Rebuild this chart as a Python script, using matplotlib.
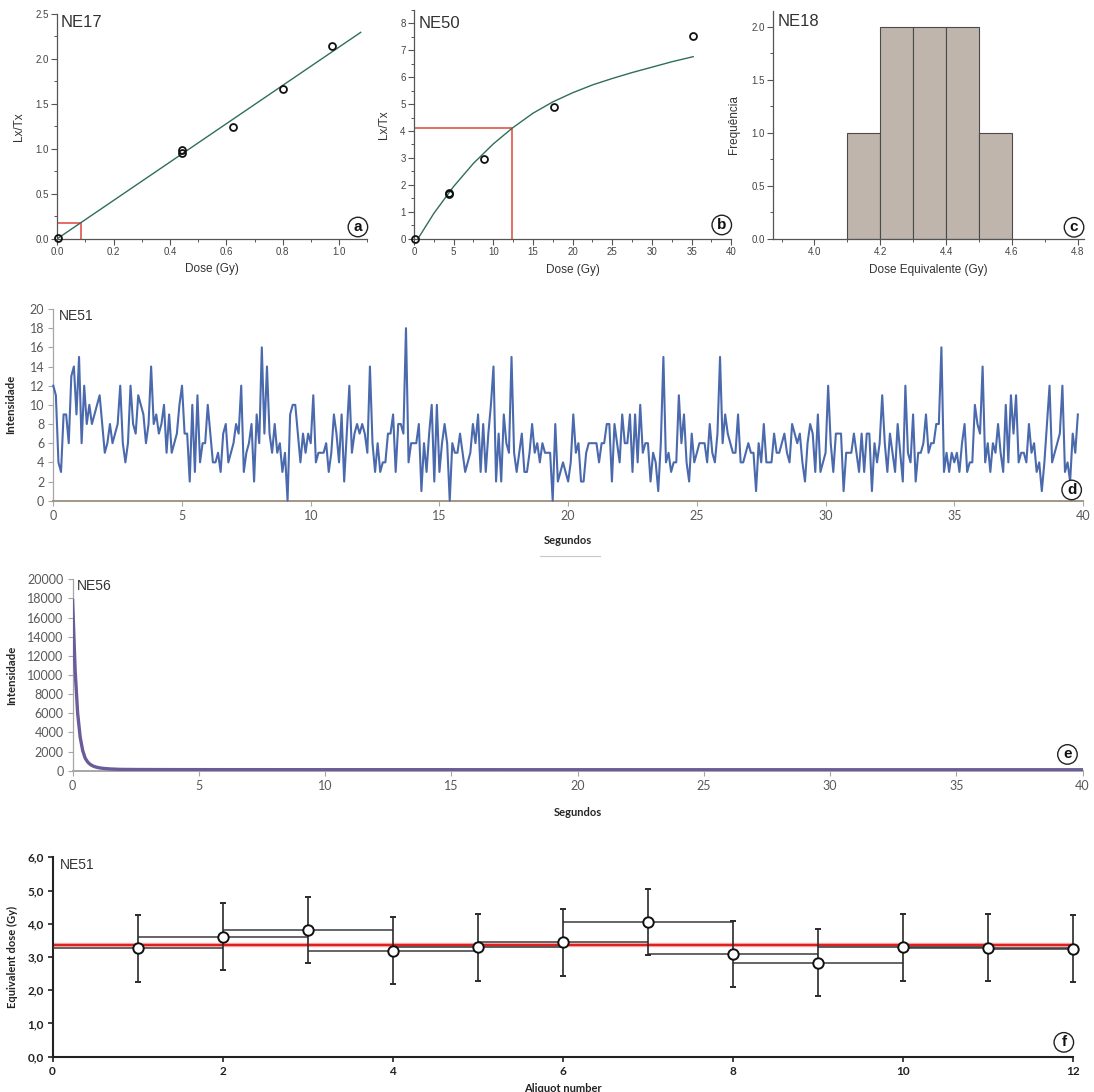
import numpy as np
import matplotlib
matplotlib.use("Agg")
import matplotlib.pyplot as plt
from matplotlib.ticker import MultipleLocator, FuncFormatter
from matplotlib.lines import Line2D

# ---------------- data ----------------
# (a) NE17 dose response
a_dose = [0.003, 0.444, 0.444, 0.622, 0.80, 0.976]
a_lxtx = [0.005, 0.987, 0.950, 1.246, 1.665, 2.148]
a_fit_x = [0.0, 1.077]
a_fit_y = [0.0, 2.296]
a_de_x = 0.085
a_de_y = 0.18

# (b) NE50 dose response
b_dose = [0.1, 4.45, 4.45, 8.87, 17.65, 35.2]
b_lxtx = [0.0, 1.66, 1.70, 2.96, 4.90, 7.53]
b_fit_x = [0.5, 2.5, 5, 7.5, 10, 12.4, 15, 17.5, 20, 22.5, 25, 27.5, 30, 32.5, 35.2]
b_fit_y = [0.0, 0.94, 1.94, 2.80, 3.52, 4.11, 4.66, 5.08, 5.42, 5.71, 5.95, 6.17, 6.37, 6.57, 6.76]
b_de_x = 12.4
b_de_y = 4.1

# (c) NE18 histogram
c_bin_left = [4.1, 4.2, 4.3, 4.4, 4.5]
c_counts = [1, 2, 2, 2, 1]
c_bin_width = 0.1

# (d) NE51 signal, 0.1 s channels
d_counts = [
    12, 11, 4, 3, 9, 9, 6, 13, 14, 9,
    15, 6, 12, 8, 10, 8, 9, 10, 11, 8,
    5, 6, 8, 6, 7, 8, 12, 6, 4, 6,
    12, 8, 7, 11, 10, 9, 6, 8, 14, 8,
    9, 7, 8, 10, 5, 9, 5, 6, 7, 10,
    12, 7, 7, 2, 10, 3, 11, 4, 6, 6,
    10, 7, 4, 4, 5, 3, 7, 8, 4, 5,
    6, 8, 7, 12, 3, 5, 6, 8, 2, 9,
    6, 16, 7, 14, 7, 5, 8, 5, 6, 3,
    5, 0, 9, 10, 10, 7, 4, 7, 5, 7,
    6, 11, 4, 5, 5, 5, 6, 3, 5, 9,
    7, 4, 9, 2, 7, 12, 5, 7, 8, 7,
    8, 7, 5, 14, 6, 3, 6, 3, 4, 4,
    7, 7, 9, 3, 8, 8, 7, 18, 4, 6,
    6, 6, 8, 1, 6, 3, 7, 10, 2, 10,
    3, 6, 8, 6, 0, 6, 5, 5, 7, 5,
    3, 4, 5, 8, 6, 9, 3, 8, 3, 7,
    10, 14, 2, 7, 2, 9, 6, 5, 15, 5,
    3, 5, 7, 3, 3, 5, 8, 5, 6, 4,
    6, 5, 5, 5, 0,
    8, 2, 3, 4, 3, 2, 4, 9,
    5, 6, 2, 2, 5, 6, 6, 6, 6, 4, 6, 6, 8, 8, 2,
    8, 6, 4, 9, 6, 6, 9, 3, 9, 4, 10,
    5, 6, 6, 2, 5, 4, 1, 6, 15,
    4, 5, 3, 4, 4, 11,
    6, 9, 4, 2, 7, 4, 5, 6, 6, 6, 4, 8, 5, 4, 7, 15,
    6, 9, 7, 6, 5, 5, 9, 4, 4, 5, 6, 5, 5, 1,
    6, 4, 8, 4, 4, 4, 7, 5, 5, 6, 7, 5, 4, 8, 7, 6, 7, 4, 2, 6, 8, 7, 3, 9, 3, 4, 5, 12,
    6, 3, 7, 7, 7, 1,
    5, 5, 5, 7, 5, 3, 7, 3, 7, 7, 1,
    6, 4, 6, 11,
    6, 3, 7, 5, 3, 8, 5, 2, 12,
    5, 4, 9, 2, 5, 5, 6, 9, 5, 6, 6, 8, 8, 16,
    3, 5, 3, 5, 4, 5, 3, 6, 8, 3, 4, 4, 10, 8, 7, 14,
    4, 6, 3, 6, 5, 8, 5, 3, 10, 4, 11, 7, 11, 4, 5, 5, 4, 8, 5, 6, 3, 4, 1, 4, 8, 12,
    4, 5, 6, 7, 12, 3, 4, 2, 7, 5, 9,
]
d_step = 0.1

# (e) NE56 decay curve
e_time = [0.0, 0.1, 0.2, 0.3, 0.4, 0.5, 0.6, 0.7, 0.8, 0.9, 1.0, 1.1, 1.2, 1.3,
          1.4, 1.5, 1.6, 1.7, 1.8, 1.9, 2.0, 2.5, 3, 4, 5, 6, 7, 8, 9, 10, 12,
          14, 16, 18, 20, 22, 24, 26, 28, 30, 32, 34, 36, 38, 40]
e_counts = [17800, 10500, 6000, 3500, 2100, 1300, 900, 650, 500, 400, 330, 280,
            250, 220, 200, 180, 170, 160, 150, 140, 135, 125, 120, 115, 112, 110,
            110, 108, 108, 106, 105, 105, 104, 103, 103, 102, 102, 101, 101, 100,
            100, 100, 100, 100, 100]

# (f) NE51 equivalent dose per aliquot
f_aliquot = [1, 2, 3, 4, 5, 6, 7, 8, 9, 10, 11, 12]
f_de = [3.26, 3.61, 3.82, 3.19, 3.29, 3.44, 4.06, 3.09, 2.83, 3.29, 3.28, 3.25]
f_de_err = [1.0] * 12
f_x_err = [1.0] * 12
f_mean = 3.36

# ---------------- figure ----------------
W, H = 1094, 1092
fig = plt.figure(figsize=(W / 100, H / 100), dpi=100)


def ax_px(l, r, t, b):
    return fig.add_axes([l / W, 1 - b / H, (r - l) / W, (b - t) / H])


ARIAL = ["Liberation Sans", "DejaVu Sans"]
CALIBRI = ["Lato", "DejaVu Sans"]


def origin_style(ax):
    for s in ("top", "right"):
        ax.spines[s].set_visible(False)
    for s in ("left", "bottom"):
        ax.spines[s].set_color("#555555")
        ax.spines[s].set_linewidth(0.9)
    ax.tick_params(which="major", direction="out", length=4, width=0.8,
                   colors="#555555", labelsize=7, labelcolor="#444444", pad=2)
    ax.tick_params(which="minor", direction="out", length=2.5, width=0.7,
                   colors="#555555")
    for lab in ax.get_xticklabels() + ax.get_yticklabels():
        lab.set_fontfamily(ARIAL)


def circ(ax, letter, x, y, fs=11):
    ax.text(x, y, letter, transform=ax.transAxes, ha="center", va="center",
            fontsize=fs, fontweight="bold", family=ARIAL, color="#111111",
            bbox=dict(boxstyle="circle,pad=0.18", fc="white", ec="#222222", lw=1.0),
            zorder=10)


FIT = "#2f6f55"
RED = "#e2544c"

# ---- (a)
axa = ax_px(57.3, 367.2, 14, 238.7)
axa.set_xlim(0, 1.1)
axa.set_ylim(0, 2.5)
axa.plot(a_fit_x, a_fit_y, color=FIT, lw=1.0, zorder=2)
axa.plot([0, a_de_x, a_de_x], [a_de_y, a_de_y, 0], color=RED, lw=1.2, zorder=1)
axa.plot(a_dose, a_lxtx, "o", mfc="none", mec="#111111", mew=1.3, ms=5, zorder=3,
         clip_on=False)
axa.xaxis.set_major_locator(MultipleLocator(0.2))
axa.xaxis.set_minor_locator(MultipleLocator(0.1))
axa.yaxis.set_major_locator(MultipleLocator(0.5))
axa.yaxis.set_minor_locator(MultipleLocator(0.25))
axa.xaxis.set_major_formatter(FuncFormatter(lambda v, p: f"{v:.1f}"))
axa.yaxis.set_major_formatter(FuncFormatter(lambda v, p: f"{v:.1f}"))
origin_style(axa)
axa.set_xlabel("Dose (Gy)", fontsize=8.5, family=ARIAL, color="#333333")
axa.set_ylabel("Lx/Tx", fontsize=8.5, family=ARIAL, color="#333333")
axa.xaxis.set_label_coords(0.5, -0.11)
axa.yaxis.set_label_coords(-0.105, 0.5)
axa.text(0.012, 0.995, "NE17", transform=axa.transAxes, ha="left", va="top",
         fontsize=12, family=ARIAL, color="#333333")
circ(axa, "a", 0.97, 0.052)

# ---- (b)
axb = ax_px(414, 731.3, 9.8, 238.7)
axb.set_xlim(0, 40)
axb.set_ylim(0, 8.5)
axb.plot(b_fit_x, b_fit_y, color=FIT, lw=1.0, zorder=2)
axb.plot([0, b_de_x, b_de_x], [b_de_y, b_de_y, 0], color=RED, lw=1.2, zorder=1)
axb.plot(b_dose, b_lxtx, "o", mfc="none", mec="#111111", mew=1.3, ms=5, zorder=3,
         clip_on=False)
axb.xaxis.set_major_locator(MultipleLocator(5))
axb.xaxis.set_minor_locator(MultipleLocator(2.5))
axb.yaxis.set_major_locator(MultipleLocator(1))
axb.yaxis.set_minor_locator(MultipleLocator(0.5))
origin_style(axb)
axb.set_xlabel("Dose (Gy)", fontsize=8.5, family=ARIAL, color="#333333")
axb.set_ylabel("Lx/Tx", fontsize=8.5, family=ARIAL, color="#333333")
axb.xaxis.set_label_coords(0.5, -0.11)
axb.yaxis.set_label_coords(-0.075, 0.5)
axb.text(0.0136, 0.975, "NE50", transform=axb.transAxes, ha="left", va="top",
         fontsize=12, family=ARIAL, color="#333333")
circ(axb, "b", 0.97, 0.06)

# ---- (c)
axc = ax_px(773.3, 1084.3, 10.8, 238.7)
axc.set_xlim(3.875, 4.82)
axc.set_ylim(0, 2.15)
axc.bar(c_bin_left, c_counts, width=c_bin_width, align="edge", color="#bfb5ac",
        edgecolor="#4a4a4a", linewidth=0.8, zorder=2)
axc.xaxis.set_major_locator(MultipleLocator(0.2))
axc.xaxis.set_minor_locator(MultipleLocator(0.1))
axc.yaxis.set_major_locator(MultipleLocator(0.5))
axc.yaxis.set_minor_locator(MultipleLocator(0.25))
axc.xaxis.set_major_formatter(FuncFormatter(lambda v, p: f"{v:.1f}"))
axc.yaxis.set_major_formatter(FuncFormatter(lambda v, p: f"{v:.1f}"))
origin_style(axc)
axc.set_xlabel("Dose Equivalente (Gy)", fontsize=8.5, family=ARIAL, color="#333333")
axc.set_ylabel("Frequência", fontsize=8.5, family=ARIAL, color="#333333")
axc.xaxis.set_label_coords(0.5, -0.11)
axc.yaxis.set_label_coords(-0.107, 0.5)
axc.text(0.015, 0.985, "NE18", transform=axc.transAxes, ha="left", va="top",
         fontsize=12, family=ARIAL, color="#333333")
circ(axc, "c", 0.967, 0.05)


def excel_style(ax, bottom_color="#a39587"):
    for s in ("top", "right"):
        ax.spines[s].set_visible(False)
    ax.spines["left"].set_color("#a6a6a6")
    ax.spines["left"].set_linewidth(0.9)
    ax.spines["bottom"].set_color(bottom_color)
    ax.spines["bottom"].set_linewidth(1.4)
    ax.tick_params(direction="out", length=3.5, width=0.8, colors="#a6a6a6",
                   labelsize=9, labelcolor="#595959", pad=3)
    for lab in ax.get_xticklabels() + ax.get_yticklabels():
        lab.set_fontfamily(CALIBRI)


# ---- (d)
axd = ax_px(53.3, 1083, 309, 500.7)
d_time = np.arange(len(d_counts)) * d_step
axd.plot(d_time, d_counts, color="#4a6aad", lw=1.5, clip_on=False, zorder=3)
axd.set_xlim(0, 40)
axd.set_ylim(0, 20)
axd.xaxis.set_major_locator(MultipleLocator(5))
axd.yaxis.set_major_locator(MultipleLocator(2))
excel_style(axd)
axd.set_xlabel("Segundos", fontsize=8, family=CALIBRI, fontweight="bold",
               color="#262626")
axd.set_ylabel("Intensidade", fontsize=8.2, family=CALIBRI, fontweight="bold",
               color="#262626")
axd.xaxis.set_label_coords(0.5, -0.18)
axd.yaxis.set_label_coords(-0.036, 0.5)
axd.text(0.005, 1.0, "NE51", transform=axd.transAxes, ha="left", va="top",
         fontsize=10, family=ARIAL, color="#333333")
circ(axd, "d", 0.989, 0.056)

# ---- (e)
axe = ax_px(72.6, 1082.6, 579.3, 770.7)
axe.plot(e_time, e_counts, color="#6a5b9a", lw=2.4, zorder=3)
axe.set_xlim(0, 40)
axe.set_ylim(0, 20000)
axe.xaxis.set_major_locator(MultipleLocator(5))
axe.yaxis.set_major_locator(MultipleLocator(2000))
excel_style(axe, bottom_color="#a6a6a6")
axe.set_xlabel("Segundos", fontsize=8, family=CALIBRI, fontweight="bold",
               color="#262626")
axe.set_ylabel("Intensidade", fontsize=8.2, family=CALIBRI, fontweight="bold",
               color="#262626")
axe.xaxis.set_label_coords(0.5, -0.19)
axe.yaxis.set_label_coords(-0.055, 0.5)
axe.text(0.004, 1.0, "NE56", transform=axe.transAxes, ha="left", va="top",
         fontsize=10, family=ARIAL, color="#333333")
circ(axe, "e", 0.985, 0.085)

# ---- (f)
axf = ax_px(52.6, 1073, 857.3, 1056.7)
axf.set_xlim(0, 12)
axf.set_ylim(0, 6)
axf.axhline(f_mean, color="#f08080", lw=3.2, alpha=0.6, zorder=1)
axf.axhline(f_mean, color="#e02020", lw=1.6, zorder=2)
axf.errorbar(f_aliquot, f_de, xerr=f_x_err, fmt="none", ecolor="#3a3a3a",
             elinewidth=1.1, capsize=0, zorder=3)
eb = axf.errorbar(f_aliquot, f_de, yerr=f_de_err, fmt="o", ms=7.5,
                  mfc="white", mec="#111111", mew=1.4, ecolor="#2a2a2a",
                  elinewidth=1.2, capsize=2.2, capthick=1.2, zorder=4)
eb[0].set_clip_on(False)
for art in list(eb[1]) + list(eb[2]):
    art.set_clip_on(False)
axf.xaxis.set_major_locator(MultipleLocator(2))
axf.yaxis.set_major_locator(MultipleLocator(1))
axf.yaxis.set_major_formatter(FuncFormatter(lambda v, p: f"{v:.1f}".replace(".", ",")))
for s in ("top", "right"):
    axf.spines[s].set_visible(False)
for s in ("left", "bottom"):
    axf.spines[s].set_color("#222222")
    axf.spines[s].set_linewidth(1.5)
axf.tick_params(direction="out", length=3.5, width=1.2, colors="#222222",
                labelsize=8.5, pad=3)
for lab in axf.get_xticklabels() + axf.get_yticklabels():
    lab.set_fontfamily(CALIBRI)
    lab.set_fontweight("bold")
axf.set_xlabel("Aliquot number", fontsize=8, family=CALIBRI, fontweight="bold",
               color="#222222")
axf.set_ylabel("Equivalent dose (Gy)", fontsize=8, family=CALIBRI,
               fontweight="bold", color="#222222")
axf.xaxis.set_label_coords(0.5, -0.132)
axf.yaxis.set_label_coords(-0.034, 0.5)
axf.text(0.007, 0.995, "NE51", transform=axf.transAxes, ha="left", va="top",
         fontsize=10, family=ARIAL, color="#333333")
circ(axf, "f", 0.991, 0.072)

# short stray separator line
fig.add_artist(Line2D([540 / W, 600 / W], [1 - 556 / H, 1 - 556 / H],
                      color="#c8c8c8", lw=0.8))

fig.savefig("out.png", dpi=100)
